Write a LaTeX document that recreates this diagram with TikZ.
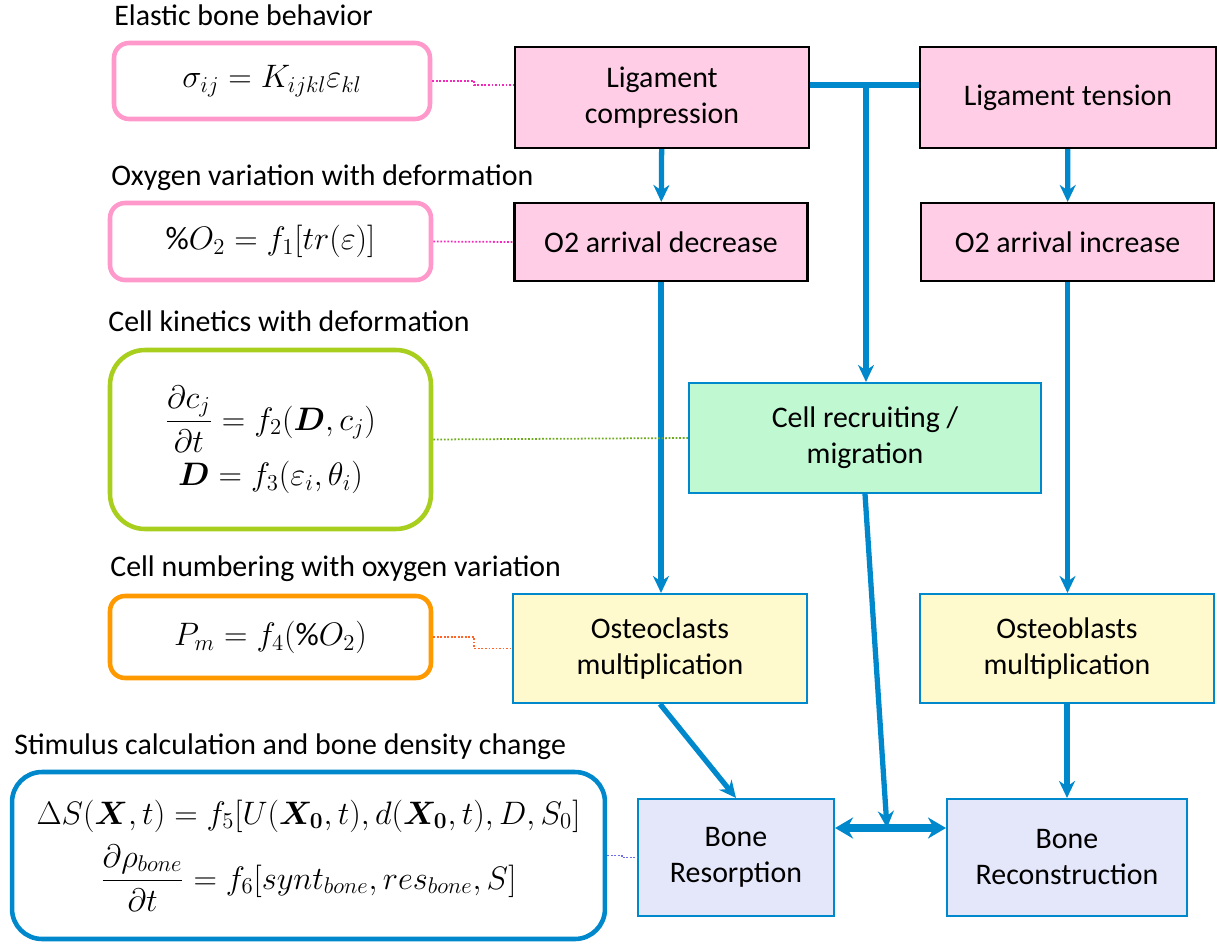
\RequirePackage{fix-cm}
\documentclass[tikz,border=0pt]{standalone}
\usepackage{amsmath}
\usepackage{fontspec}
\usepackage{bm}
\setmainfont{Carlito}
\usetikzlibrary{arrows.meta}

\definecolor{ligfill}{RGB}{255,206,230}
\definecolor{recfill}{RGB}{192,248,210}
\definecolor{multfill}{RGB}{255,250,206}
\definecolor{bonefill}{RGB}{228,230,250}
\definecolor{flow}{RGB}{0,136,204}
\definecolor{eqpink}{RGB}{255,153,204}
\definecolor{eqgreen}{RGB}{168,206,30}
\definecolor{eqorange}{RGB}{255,153,0}
\definecolor{dotpink}{RGB}{245,40,190}
\definecolor{dotgreen}{RGB}{110,170,30}
\definecolor{dotorange}{RGB}{255,100,40}
\definecolor{dotblue}{RGB}{110,110,235}

\begin{document}
\begin{tikzpicture}[x=0.02cm, y=-0.02cm,
  every node/.style={font=\fontsize{17}{20.5}\selectfont},
  pinkbox/.style={draw=black, line width=1.2pt, fill=ligfill, align=center, inner sep=0pt},
  bluebox/.style={draw=flow, line width=1.2pt, align=center, inner sep=0pt},
  eqbox/.style={line width=2.6pt, align=center, inner sep=0pt, font=\fontsize{18.5}{22}\selectfont},
  title/.style={anchor=west, inner sep=0pt},
  arr/.style={draw=flow, line width=3pt, -{Stealth[length=0.34cm, width=0.32cm]}},
  dbl/.style={draw=flow, line width=4.5pt, {Stealth[length=0.36cm, width=0.42cm]}-{Stealth[length=0.36cm, width=0.42cm]}},
  dots/.style={densely dotted, line width=1pt}]

\useasboundingbox (0,0) rectangle (1219,945);

%titres
\node [title] (t1) at (114,15) {Elastic bone behavior};
\node [title] (t2) at (111,178) {Oxygen variation with deformation};
\node [title] (t3) at (108,321) {Cell kinetics with deformation};
\node [title] (t4) at (110,569) {Cell numbering with oxygen variation};
\node [title] (t5) at (14,747) {Stimulus calculation and bone density change};

%equations
\node [eqbox, draw=eqpink, rounded corners=0.3cm, minimum width=6.32cm, minimum height=1.52cm] (f1) at (272,81)
   {$\sigma_{ij} = K_{ijkl}\varepsilon_{kl}$};
\node [eqbox, draw=eqpink, rounded corners=0.3cm, minimum width=6.42cm, minimum height=1.54cm] (f2) at (270.5,241.5)
   {$\%O_2 = f_1[tr(\varepsilon)]$};
\node [eqbox, draw=eqgreen, rounded corners=0.7cm, minimum width=6.42cm, minimum height=3.58cm] (f3) at (270.5,439.5)
   {$\dfrac{\partial c_j}{\partial t} = f_2(\bm{D}, c_j)$\\[4pt] $\bm{D} = f_3(\varepsilon_i, \theta_i)$};
\node [eqbox, draw=eqorange, rounded corners=0.3cm, minimum width=6.42cm, minimum height=1.64cm] (f4) at (270.5,637)
   {$P_m = f_4(\%O_2)$};
\node [eqbox, draw=flow, rounded corners=0.6cm, minimum width=11.86cm, minimum height=3.34cm] (f5) at (308.5,855.5)
   {$\Delta S(\bm{X},t) = f_5[U(\bm{X}_{\bm{0}},t), d(\bm{X}_{\bm{0}},t), D, S_0]$\\[6pt]
    $\dfrac{\partial \rho_{bone}}{\partial t} = f_6[synt_{bone}, res_{bone}, S]$};

%ligament
\node [pinkbox, minimum width=5.88cm, minimum height=2.02cm] (lig) at (662,97.5) {Ligament\\compression};
\node [pinkbox, minimum width=5.92cm, minimum height=2.02cm] (ten) at (1068,97.5) {Ligament tension};
\node [pinkbox, minimum width=5.86cm, minimum height=1.56cm] (dec) at (661,242) {O2 arrival decrease};
\node [pinkbox, minimum width=5.86cm, minimum height=1.56cm] (inc) at (1067.5,242) {O2 arrival increase};

%cellules
\node [bluebox, fill=recfill, minimum width=7.04cm, minimum height=2.2cm] (rec) at (865,438) {Cell recruiting /\\migration};
\node [bluebox, fill=multfill, minimum width=5.88cm, minimum height=2.18cm] (ocl) at (660,648.5) {Osteoclasts\\multiplication};
\node [bluebox, fill=multfill, minimum width=5.88cm, minimum height=2.18cm] (obl) at (1067,648.5) {Osteoblasts\\multiplication};

%os
\node [bluebox, fill=bonefill, minimum width=3.92cm, minimum height=2.34cm] (res) at (736,857.5) {Bone\\Resorption};
\node [bluebox, fill=bonefill, minimum width=4.8cm, minimum height=2.34cm] (recon) at (1067,857.5) {Bone\\Reconstruction};

\coordinate (tj) at (866,85);
\coordinate (mid) at (887,828);

%fleches
\draw [flow, line width=3pt] (lig.east |- tj) -- (ten.west |- tj);
\draw [arr] (tj) -- (rec.north -| tj);
\draw [arr] (lig) -- (dec);
\draw [arr] (ten) -- (inc);
\draw [arr] (dec.south) -- (ocl.north -| dec.south);
\draw [arr] (inc.south) -- (obl.north -| inc.south);
\draw [arr] (rec.south) -- (mid);
\draw [arr] (ocl.south) -- (res.north);
\draw [arr] (obl.south) -- (recon.north -| obl.south);
\draw [dbl] (res.east |- mid) -- (recon.west |- mid);

%pointilles
\draw [dots, dotpink] (f1.east) -- ++(42,0) |- (lig.west |- tj);
\draw [dots, dotpink] (f2.east) -- (dec.west);
\draw [dots, dotgreen] (f3.east) -- (rec.west);
\draw [dots, dotorange] (f4.east) -- ++(41,0) |- (ocl.west);
\draw [dots, dotblue] (f5.east) -- ++(15,0) |- (res.west);

\end{tikzpicture}
\end{document}
